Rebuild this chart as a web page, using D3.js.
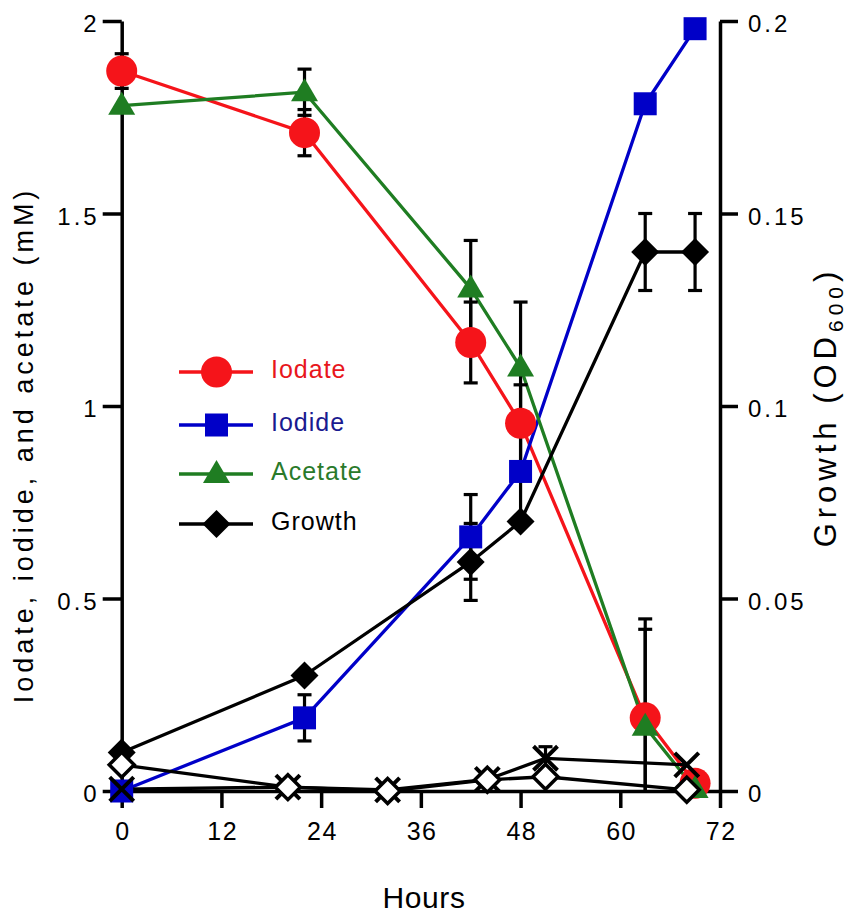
<!DOCTYPE html>
<html>
<head>
<meta charset="utf-8">
<script src="https://cdn.jsdelivr.net/npm/d3@7"></script>
<style>
  html, body { margin: 0; padding: 0; background: #fff; }
  svg { display: block; }
  text { font-family: "Liberation Sans", Arial, Helvetica, sans-serif; }
</style>
</head>
<body>
<svg id="chart" width="851" height="917"></svg>
<script>
// ---- data ----
const hours      = [0, 22, 42, 48, 63, 69];
const iodate     = [1.87, 1.71, 1.165, 0.955, 0.19, 0.02];
const iodateErr  = [0.045, 0.06, 0.105, 0.10, 0.23, 0];
const iodide     = [0, 0.19, 0.66, 0.83, 1.785, 1.98];
const iodideErr  = [0, 0.06, 0.11, 0.13, 0, 0];
const acetate    = [1.78, 1.815, 1.305, 1.10, 0.167, 0.005];
const acetateErr = [0, 0.06, 0.125, 0.17, 0.28, 0];
const growth     = [0.010, 0.030, 0.0595, 0.070, 0.140, 0.140];
const growthErr  = [0, 0, 0.010, 0, 0.010, 0.010];
const controlHours    = [0, 20, 32, 44, 51, 68];
const controlOpen     = [0.0068, 0.001, 0.0, 0.0029, 0.0037, 0.0003];
const controlCross    = [0.0005, 0.001, 0.0003, 0.003, 0.0085, 0.0068];
const controlCrossErr = [0, 0, 0, 0, 0.003, 0];
const xTicks = [0, 12, 24, 36, 48, 60, 72];
const yLeftTicks = [0, 0.5, 1, 1.5, 2];
const yLeftLabels = ["0", "0.5", "1", "1.5", "2"];
const yRightTicks = [0, 0.05, 0.1, 0.15, 0.2];
const yRightLabels = ["0", "0.05", "0.1", "0.15", "0.2"];
const legendNames = ["Iodate", "Iodide", "Acetate", "Growth"];

// ---- styles ----
const RED = "#f5141a", BLUE = "#0000c8", GREEN = "#1f7d22", BLACK = "#000";

const svg = d3.select("#chart");
const x  = d3.scaleLinear([0, 72], [121.7, 720]);
const yL = d3.scaleLinear([0, 2], [791, 21]);
const yR = d3.scaleLinear([0, 0.2], [791, 21]);

// ---- axes ----
function styleAxis(g, fs, ls) {
  g.select(".domain").attr("stroke", BLACK).attr("stroke-width", 3.5);
  g.selectAll(".tick line").attr("stroke", BLACK).attr("stroke-width", 3.5);
  g.selectAll(".tick text").attr("fill", BLACK).style("font-size", fs + "px")
    .style("letter-spacing", ls + "px");
}
const gx = svg.append("g").attr("transform", "translate(0,791)")
  .call(d3.axisBottom(x).tickValues(xTicks).tickSize(17).tickSizeOuter(0).tickPadding(14).tickFormat(d3.format("d")));
styleAxis(gx, 25, 1.5);
gx.selectAll(".tick text").attr("dx", "0.75px");

const gl = svg.append("g").attr("transform", "translate(121.7,0)")
  .call(d3.axisLeft(yL).tickValues(yLeftTicks).tickSize(19).tickSizeOuter(0).tickPadding(6)
    .tickFormat((d, i) => yLeftLabels[i]));
styleAxis(gl, 24, 3);
gl.selectAll(".tick text").attr("dx", "3px").attr("dy", "0.45em");

const gr = svg.append("g").attr("transform", "translate(720,0)")
  .call(d3.axisRight(yR).tickValues(yRightTicks).tickSize(18).tickSizeOuter(0).tickPadding(10)
    .tickFormat((d, i) => yRightLabels[i]));
styleAxis(gr, 24, 3);
gr.selectAll(".tick text").attr("dy", "0.45em");
// redraw the left domain on top of tick line at 0 (continuous baseline)

// ---- axis titles ----
svg.append("text").attr("x", 424).attr("y", 908).attr("text-anchor", "middle")
  .style("font-size", "30px").style("letter-spacing", "0.6px").text("Hours");

svg.append("text").attr("transform", "translate(33,445) rotate(-90)")
  .attr("text-anchor", "middle").style("font-size", "27px").style("letter-spacing", "4px")
  .text("Iodate, iodide, and acetate (mM)");

const rt = svg.append("text").attr("transform", "translate(836,407) rotate(-90)")
  .attr("text-anchor", "middle").style("font-size", "31px").style("letter-spacing", "5px");
rt.append("tspan").text("Growth (OD");
rt.append("tspan").attr("dy", "7").style("font-size", "21px").text("600");
rt.append("tspan").attr("dy", "-7").text(")");

// ---- helpers ----
const line = (ys) => d3.line().x((d, i) => x(d.h)).y(d => ys(d.v));
function seriesData(hs, vs, es) { return hs.map((h, i) => ({ h, v: vs[i], e: es ? es[i] : 0 })); }

const sIodate  = seriesData(hours, iodate, iodateErr);
const sIodide  = seriesData(hours, iodide, iodideErr);
const sAcetate = seriesData(hours, acetate, acetateErr);
const sGrowth  = seriesData(hours, growth, growthErr);
const sOpen    = seriesData(controlHours, controlOpen, null);
const sCross   = seriesData(controlHours, controlCross, controlCrossErr);

const gLines = svg.append("g"), gErr = svg.append("g"), gMarks = svg.append("g");

function drawLine(data, ys, color) {
  gLines.append("path").datum(data).attr("d", line(ys)).attr("fill", "none")
    .attr("stroke", color).attr("stroke-width", 3.3).attr("stroke-linejoin", "round");
}
function drawErr(data, ys) {
  data.filter(d => d.e > 0).forEach(d => {
    const cx = x(d.h);
    const top = d.v + d.e, bot = Math.max(0, d.v - d.e);
    gErr.append("line").attr("x1", cx).attr("x2", cx).attr("y1", ys(top)).attr("y2", ys(bot))
      .attr("stroke", BLACK).attr("stroke-width", 3.2);
    gErr.append("line").attr("x1", cx - 7).attr("x2", cx + 7).attr("y1", ys(top)).attr("y2", ys(top))
      .attr("stroke", BLACK).attr("stroke-width", 3.2);
    if (d.v - d.e > 0)
      gErr.append("line").attr("x1", cx - 7).attr("x2", cx + 7).attr("y1", ys(bot)).attr("y2", ys(bot))
        .attr("stroke", BLACK).attr("stroke-width", 3.2);
  });
}
const shapes = {
  circle: (g, c) => g.append("circle").attr("r", 15.5).attr("fill", c),
  square: (g, c) => g.append("rect").attr("x", -11.5).attr("y", -11.5).attr("width", 23).attr("height", 23).attr("fill", c),
  triangle: (g, c) => g.append("path").attr("d", "M0,-14L13.5,9L-13.5,9Z").attr("fill", c),
  diamond: (g, c) => g.append("path").attr("d", "M0,-14L14,0L0,14L-14,0Z").attr("fill", c),
  open: (g, c) => g.append("path").attr("d", "M0,-12.5L12.5,0L0,12.5L-12.5,0Z").attr("fill", "#fff")
    .attr("stroke", c).attr("stroke-width", 3.5),
  cross: (g, c) => g.append("path").attr("d", "M-12,-12L12,12M12,-12L-12,12").attr("fill", "none")
    .attr("stroke", c).attr("stroke-width", 4)
};
function drawMarks(data, ys, shape, color) {
  data.forEach(d => {
    const g = gMarks.append("g").attr("transform", `translate(${x(d.h)},${ys(d.v)})`);
    shapes[shape](g, color);
  });
}

// lines
drawLine(sIodate, yL, RED);
drawLine(sIodide, yL, BLUE);
drawLine(sAcetate, yL, GREEN);
drawLine(sGrowth, yR, BLACK);
drawLine(sCross, yR, BLACK);
drawLine(sOpen, yR, BLACK);
// error bars
drawErr(sIodate, yL); drawErr(sIodide, yL); drawErr(sAcetate, yL);
drawErr(sGrowth, yR); drawErr(sCross, yR);
// markers
drawMarks(sIodate, yL, "circle", RED);
drawMarks(sIodide, yL, "square", BLUE);
drawMarks(sAcetate, yL, "triangle", GREEN);
drawMarks(sGrowth, yR, "diamond", BLACK);
drawMarks(sCross, yR, "cross", BLACK);
drawMarks(sOpen, yR, "open", BLACK);

// ---- legend ----
const legColors = [RED, BLUE, GREEN, BLACK];
const legText = ["#e8161c", "#1a1a90", "#2a7a2a", "#000"];
const legShapes = ["circle", "square", "triangle", "diamond"];
const legY = [372, 425, 474, 524];
legendNames.forEach((name, i) => {
  const g = svg.append("g").attr("transform", `translate(0,${legY[i]})`);
  g.append("line").attr("x1", 179).attr("x2", 253).attr("y1", 0).attr("y2", 0)
    .attr("stroke", legColors[i]).attr("stroke-width", 3.3);
  const m = g.append("g").attr("transform", "translate(216.5,0)");
  shapes[legShapes[i]](m, legColors[i]);
  g.append("text").attr("x", 271).attr("y", 6).attr("fill", legText[i])
    .style("font-size", "25px").style("letter-spacing", "1px").text(name);
});
</script>
</body>
</html>
